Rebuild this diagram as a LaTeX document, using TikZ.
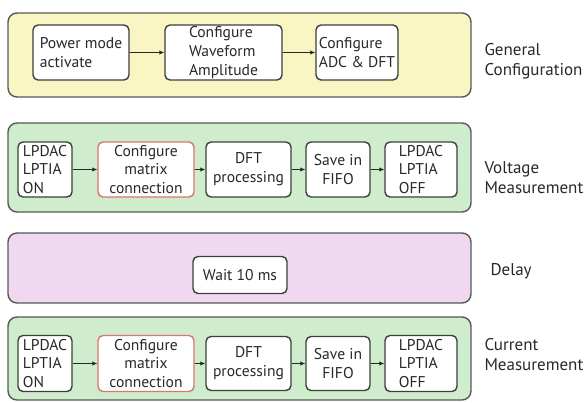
\documentclass[tikz,border=0pt]{standalone}
\usepackage{fontspec}
\setmainfont{PT Sans}
\usetikzlibrary{arrows.meta}
\definecolor{cfgfill}{RGB}{250,246,196}
\definecolor{measfill}{RGB}{207,236,205}
\definecolor{delayfill}{RGB}{240,216,241}
\definecolor{panelline}{RGB}{85,90,85}
\definecolor{boxline}{RGB}{60,64,60}
\definecolor{redline}{RGB}{214,120,110}
\definecolor{txt}{RGB}{40,40,40}
\tikzset{
  panel/.style={draw=panelline, line width=1.4pt, rounded corners=9pt, inner sep=0pt},
  stepbox/.style={draw=boxline, fill=white, line width=1.4pt, rounded corners=5pt,
    inner sep=0pt, align=left, text=txt, font=\fontsize{15.6}{18.8}\selectfont},
  cbox/.style={stepbox, align=center},
  redbox/.style={cbox, draw=redline},
  sidelabel/.style={anchor=west, align=left, text=txt, font=\fontsize{17}{20}\selectfont},
  flow/.style={draw=black!85, line width=1.8pt, -{Latex[length=5pt,width=4.5pt]}}
}
\begin{document}
\begin{tikzpicture}[x=1pt,y=-1pt]
\useasboundingbox (0,0) rectangle (587,403);

% General configuration
\node[panel, fill=cfgfill, minimum width=463pt, minimum height=84pt] (p1) at (239.5,55) {};
\node[stepbox, minimum width=96pt, minimum height=55pt] (pwr) at (81,52.5) {Power mode\\activate};
\node[stepbox, minimum width=117pt, minimum height=55pt] (wave) at (223.5,52.5) {Configure\\Waveform\\Amplitude};
\node[stepbox, minimum width=82pt, minimum height=55pt] (adc) at (357,52.5) {Configure\\ADC \& DFT};
\draw[flow] (pwr) -- (wave);
\draw[flow] (wave) -- (adc);
\node[sidelabel] (l1) at (481,61) {General\\Configuration};

% Voltage measurement
\node[panel, fill=measfill, minimum width=463pt, minimum height=89pt] (p2) at (239.5,167.5) {};
\node[stepbox, minimum width=54pt, minimum height=55pt] (von) at (45,169.5) {LPDAC\\LPTIA\\ON};
\node[redbox, minimum width=96pt, minimum height=55pt] (vmx) at (146,169.5) {Configure\\matrix\\connection};
\node[cbox, minimum width=85pt, minimum height=55pt] (vdft) at (248.5,169.5) {DFT\\processing};
\node[cbox, minimum width=64pt, minimum height=55pt] (vfifo) at (338,169.5) {Save in\\FIFO};
\node[stepbox, minimum width=72pt, minimum height=55pt] (voff) at (421,169.5) {LPDAC\\LPTIA\\OFF};
\draw[flow] (von) -- (vmx);
\draw[flow] (vmx) -- (vdft);
\draw[flow] (vdft) -- (vfifo);
\draw[flow] (vfifo) -- (voff);
\node[sidelabel] (l2) at (481,178) {Voltage\\Measurement};

% Delay
\node[panel, fill=delayfill, minimum width=463pt, minimum height=70pt] (p3) at (239.5,268) {};
\node[cbox, minimum width=94pt, minimum height=37pt] (wait) at (240,275) {Wait 10 ms};
\node[sidelabel] (l3) at (487,271) {Delay};

% Current measurement
\node[panel, fill=measfill, minimum width=463pt, minimum height=83pt] (p4) at (239.5,358.5) {};
\node[stepbox, minimum width=54pt, minimum height=56pt] (ion) at (45,363.5) {LPDAC\\LPTIA\\ON};
\node[redbox, minimum width=96pt, minimum height=56pt] (imx) at (146,363.5) {Configure\\matrix\\connection};
\node[cbox, minimum width=85pt, minimum height=54pt] (idft) at (248.5,363.5) {DFT\\processing};
\node[cbox, minimum width=64pt, minimum height=54pt] (ififo) at (338,363.5) {Save in\\FIFO};
\node[stepbox, minimum width=72pt, minimum height=56pt] (ioff) at (421,363.5) {LPDAC\\LPTIA\\OFF};
\draw[flow] (ion) -- (imx);
\draw[flow] (imx) -- (idft);
\draw[flow] (idft) -- (ififo);
\draw[flow] (ififo) -- (ioff);
\node[sidelabel] (l4) at (481,355) {Current\\Measurement};
\end{tikzpicture}
\end{document}
